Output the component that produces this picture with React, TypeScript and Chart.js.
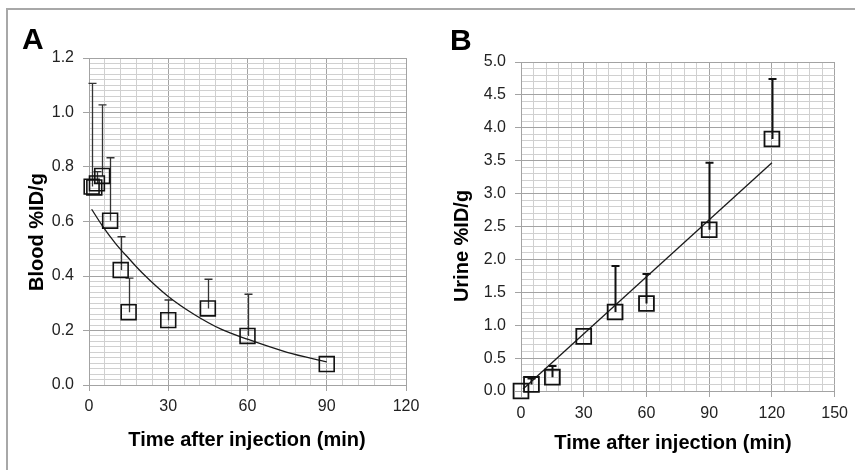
import React, { useEffect, useRef } from "react";
import { Chart, registerables } from "chart.js";

Chart.register(...registerables);

const FONT = "'Liberation Sans', Arial, Helvetica, sans-serif";

// ---- Panel A: blood ----
const bloodTimes = [1, 2, 3, 5, 8, 12, 15, 30, 45, 60, 90];
const bloodMeans = [0.728, 0.725, 0.74, 0.767, 0.603, 0.422, 0.267, 0.238, 0.281, 0.18, 0.077];
const bloodUpper = [1.107, null, 0.783, 1.028, 0.834, 0.544, 0.392, 0.312, 0.388, 0.333, null];
const bloodFitTimes = [1, 5, 10, 15, 20, 30, 40, 50, 60, 75, 90];
const bloodFitValues = [0.645, 0.585, 0.52, 0.465, 0.413, 0.325, 0.258, 0.205, 0.168, 0.12, 0.085];
const bloodXTicks = [0, 30, 60, 90, 120];
const bloodYTicks = [0, 0.2, 0.4, 0.6, 0.8, 1.0, 1.2];

// ---- Panel B: urine ----
const urineTimes = [0, 5, 15, 30, 45, 60, 90, 120];
const urineMeans = [0, 0.1, 0.21, 0.83, 1.2, 1.33, 2.45, 3.83];
const urineUpper = [null, 0.19, 0.38, null, 1.9, 1.78, 3.47, 4.74];
const urineFitTimes = [1, 120];
const urineFitValues = [0.03, 3.47];
const urineXTicks = [0, 30, 60, 90, 120, 150];
const urineYTicks = [0, 0.5, 1.0, 1.5, 2.0, 2.5, 3.0, 3.5, 4.0, 4.5, 5.0];

const isIn = (v: number, list: number[]) => list.some((m) => Math.abs(m - v) < 1e-6);

type PanelSpec = {
  letter: string;
  xTitle: string;
  yTitle: string;
  times: number[];
  means: number[];
  upper: (number | null)[];
  fitTimes: number[];
  fitValues: number[];
  xTicks: number[];
  yTicks: number[];
  xMinorStep: number;
  yMinorStep: number;
  yDecimals: number;
  width: number;
  height: number;
  padding: { left: number; top: number; right: number; bottom: number };
  yAxisWidth: number;
  xAxisHeight: number;
  xTickPadding: number;
  letterPos: [number, number];
  xTitlePos: [number, number];
  yTitlePos: [number, number];
  errWidth: number;
  errColor: string;
  fitTension: number;
  markerBorder: number;
};

function makeChart(canvas: HTMLCanvasElement, s: PanelSpec) {
  const points = s.times.map((t, i) => ({ x: t, y: s.means[i] }));
  const fit = s.fitTimes.map((t, i) => ({ x: t, y: s.fitValues[i] }));
  const majorColor = "#a3a3a3";
  const minorColor = "#d0d0d0";

  const errorBars = {
    id: "errorBars",
    beforeDatasetsDraw(chart: any) {
      const { ctx, scales } = chart;
      const xs = scales.x;
      const ys = scales.y;
      ctx.save();
      ctx.strokeStyle = s.errColor;
      ctx.lineWidth = s.errWidth;
      s.times.forEach((t, i) => {
        const u = s.upper[i];
        if (u == null) return;
        const px = Math.round(xs.getPixelForValue(t)) + 0.5;
        const py0 = ys.getPixelForValue(s.means[i]);
        const py1 = ys.getPixelForValue(u);
        ctx.beginPath();
        ctx.moveTo(px, py0);
        ctx.lineTo(px, py1);
        ctx.moveTo(px - 4, py1);
        ctx.lineTo(px + 4, py1);
        ctx.stroke();
      });
      ctx.restore();
    },
  };

  const texts = {
    id: "texts",
    afterDraw(chart: any) {
      const ctx = chart.ctx;
      ctx.save();
      ctx.fillStyle = "#000";
      ctx.font = `bold 30px ${FONT}`;
      ctx.textAlign = "left";
      ctx.textBaseline = "alphabetic";
      ctx.fillText(s.letter, s.letterPos[0], s.letterPos[1]);
      ctx.font = `bold 20px ${FONT}`;
      ctx.textAlign = "center";
      ctx.textBaseline = "middle";
      ctx.fillText(s.xTitle, s.xTitlePos[0], s.xTitlePos[1]);
      ctx.translate(s.yTitlePos[0], s.yTitlePos[1]);
      ctx.rotate(-Math.PI / 2);
      ctx.fillText(s.yTitle, 0, 0);
      ctx.restore();
    },
  };

  const gridColor = (list: number[]) => (c: any) =>
    c.tick && isIn(c.tick.value, list) ? majorColor : minorColor;
  const tickColor = (list: number[]) => (c: any) =>
    c.tick && isIn(c.tick.value, list) ? majorColor : "rgba(0,0,0,0)";

  return new Chart(canvas, {
    type: "scatter",
    data: {
      datasets: [
        {
          data: fit,
          showLine: true,
          borderColor: "#1a1a1a",
          borderWidth: 1.3,
          pointRadius: 0,
          tension: s.fitTension,
          cubicInterpolationMode: s.fitTension > 0 ? "monotone" : "default",
          clip: false,
          order: 2,
        } as any,
        {
          data: points,
          pointStyle: "rect",
          pointRadius: 10.5,
          pointBorderWidth: s.markerBorder,
          borderColor: "#111",
          backgroundColor: "rgba(0,0,0,0)",
          pointBackgroundColor: "rgba(0,0,0,0)",
          pointBorderColor: "#111",
          showLine: false,
          clip: false,
          order: 1,
        } as any,
      ],
    },
    options: {
      responsive: false,
      animation: false,
      events: [],
      layout: { padding: s.padding },
      plugins: { legend: { display: false }, tooltip: { enabled: false }, title: { display: false } },
      scales: {
        x: {
          type: "linear",
          min: s.xTicks[0],
          max: s.xTicks[s.xTicks.length - 1],
          afterFit: (sc: any) => {
            sc.height = s.xAxisHeight;
          },
          border: { display: true, color: majorColor, width: 1 },
          grid: {
            color: gridColor(s.xTicks),
            tickColor: tickColor(s.xTicks),
            drawTicks: true,
            tickLength: 6,
            lineWidth: 1,
          },
          ticks: {
            stepSize: s.xMinorStep,
            maxTicksLimit: 200,
            autoSkip: false,
            maxRotation: 0,
            minRotation: 0,
            padding: s.xTickPadding,
            color: "#222",
            font: { family: FONT, size: 16 },
            callback: (v: any) => (isIn(Number(v), s.xTicks) ? String(Math.round(Number(v))) : ""),
          },
        },
        y: {
          type: "linear",
          min: s.yTicks[0],
          max: s.yTicks[s.yTicks.length - 1],
          afterFit: (sc: any) => {
            sc.width = s.yAxisWidth;
          },
          border: { display: true, color: majorColor, width: 1 },
          grid: {
            color: gridColor(s.yTicks),
            tickColor: tickColor(s.yTicks),
            drawTicks: true,
            tickLength: 6,
            lineWidth: 1,
          },
          ticks: {
            stepSize: s.yMinorStep,
            maxTicksLimit: 200,
            autoSkip: false,
            padding: 9,
            color: "#222",
            font: { family: FONT, size: 16 },
            callback: (v: any) => (isIn(Number(v), s.yTicks) ? Number(v).toFixed(s.yDecimals) : ""),
          },
        },
      },
    } as any,
    plugins: [errorBars, texts],
  });
}

const panelA: PanelSpec = {
  letter: "A",
  xTitle: "Time after injection (min)",
  yTitle: "Blood %ID/g",
  times: bloodTimes,
  means: bloodMeans,
  upper: bloodUpper,
  fitTimes: bloodFitTimes,
  fitValues: bloodFitValues,
  xTicks: bloodXTicks,
  yTicks: bloodYTicks,
  xMinorStep: 6,
  yMinorStep: 0.02,
  yDecimals: 1,
  width: 430,
  height: 470,
  padding: { left: 0, top: 58, right: 24, bottom: 0 },
  yAxisWidth: 89,
  xAxisHeight: 85,
  xTickPadding: 6,
  letterPos: [22, 49],
  xTitlePos: [247, 440],
  yTitlePos: [37, 232],
  errWidth: 1.3,
  errColor: "#333",
  fitTension: 0.4,
  markerBorder: 1.6,
};

const panelB: PanelSpec = {
  letter: "B",
  xTitle: "Time after injection (min)",
  yTitle: "Urine %ID/g",
  times: urineTimes,
  means: urineMeans,
  upper: urineUpper,
  fitTimes: urineFitTimes,
  fitValues: urineFitValues,
  xTicks: urineXTicks,
  yTicks: urineYTicks,
  xMinorStep: 6,
  yMinorStep: 0.1,
  yDecimals: 1,
  width: 425,
  height: 470,
  padding: { left: 0, top: 62, right: 19, bottom: 0 },
  yAxisWidth: 91,
  xAxisHeight: 79,
  xTickPadding: 7,
  letterPos: [20, 50],
  xTitlePos: [243, 443],
  yTitlePos: [32, 246],
  errWidth: 2,
  errColor: "#111",
  fitTension: 0,
  markerBorder: 1.8,
};

function Panel({ spec, left }: { spec: PanelSpec; left: number }) {
  const ref = useRef<HTMLCanvasElement | null>(null);
  useEffect(() => {
    if (!ref.current) return;
    const chart = makeChart(ref.current, spec);
    return () => chart.destroy();
  }, [spec]);
  return (
    <canvas
      ref={ref}
      width={spec.width}
      height={spec.height}
      style={{ position: "absolute", left, top: 0, width: spec.width, height: spec.height }}
    />
  );
}

export default function App() {
  return (
    <div
      style={{
        position: "fixed",
        left: 0,
        top: 0,
        width: 855,
        height: 470,
        background: "#fff",
        overflow: "hidden",
      }}
    >
      <Panel spec={panelA} left={0} />
      <Panel spec={panelB} left={430} />
      <div
        style={{
          position: "absolute",
          left: 6,
          top: 8,
          width: 855,
          height: 470,
          borderTop: "2px solid #a8a8a8",
          borderLeft: "2px solid #a8a8a8",
          boxSizing: "border-box",
          pointerEvents: "none",
        }}
      />
    </div>
  );
}
